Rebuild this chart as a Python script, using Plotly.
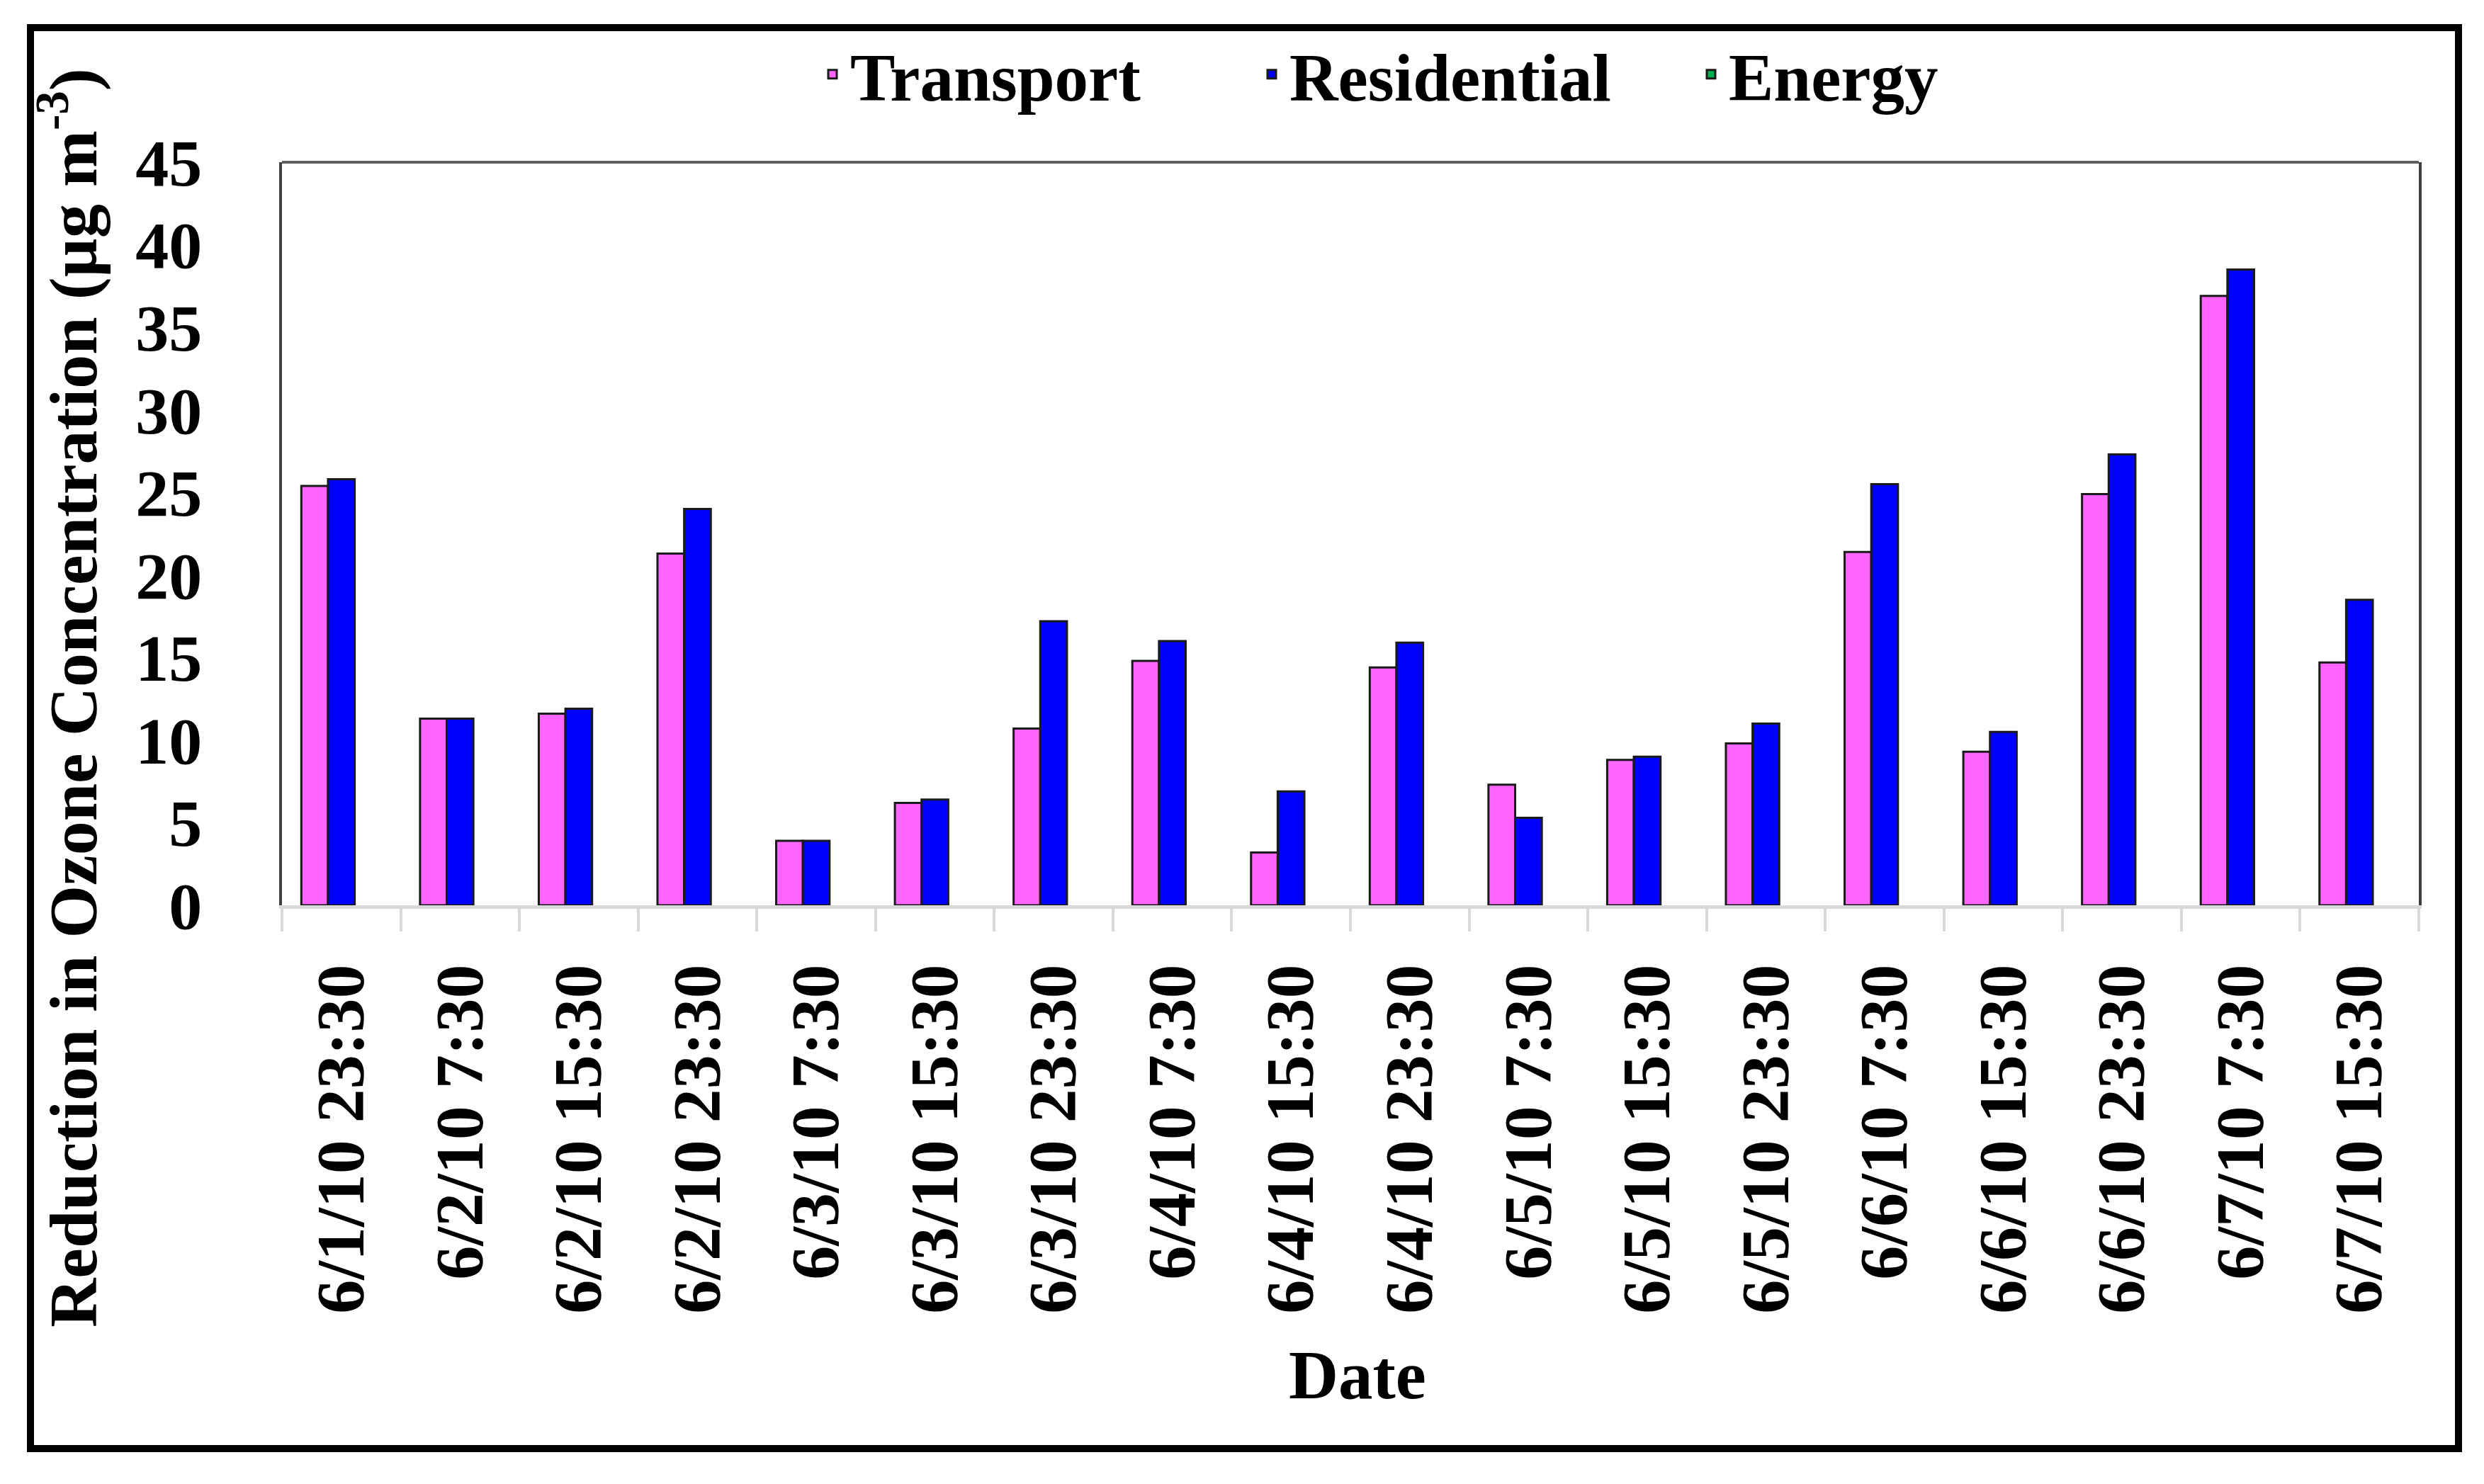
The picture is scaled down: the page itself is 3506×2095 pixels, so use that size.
import plotly.graph_objects as go

categories = ["6/1/10 23:30", "6/2/10 7:30", "6/2/10 15:30", "6/2/10 23:30",
              "6/3/10 7:30", "6/3/10 15:30", "6/3/10 23:30", "6/4/10 7:30",
              "6/4/10 15:30", "6/4/10 23:30", "6/5/10 7:30", "6/5/10 15:30",
              "6/5/10 23:30", "6/6/10 7:30", "6/6/10 15:30", "6/6/10 23:30",
              "6/7/10 7:30", "6/7/10 15:30"]
transport = [25.4, 11.3, 11.6, 21.3, 3.9, 6.2, 10.7, 14.8, 3.2, 14.4,
             7.3, 8.8, 9.8, 21.4, 9.3, 24.9, 36.9, 14.7]
residential = [25.8, 11.3, 11.9, 24.0, 3.9, 6.4, 17.2, 16.0, 6.9, 15.9,
               5.3, 9.0, 11.0, 25.5, 10.5, 27.3, 38.5, 18.5]
energy = [None] * 18  # no visible Energy bars in the reference
y_ticks = [0, 5, 10, 15, 20, 25, 30, 35, 40, 45]

OFF = 8  # default page body margin
W, H = 3506 - 2 * OFF, 2095 - 2 * OFF
L, R, T, B = 398 - OFF, 3414 - OFF, 229 - OFF, 1278 - OFF
pw, ph = R - L, B - T

def px(x):
    return (x - OFF - L) / pw

def py(y):
    return (B - (y - OFF)) / ph

FONT = "Liberation Serif"

fig = go.Figure()
fig.add_trace(go.Bar(name="Transport", x=categories, y=transport,
                     marker=dict(color="#FF66FF", line=dict(color="#1a1a1a", width=3))))
fig.add_trace(go.Bar(name="Residential", x=categories, y=residential,
                     marker=dict(color="#0000FF", line=dict(color="#1a1a1a", width=3))))
fig.add_trace(go.Bar(name="Energy", x=categories, y=energy,
                     marker=dict(color="#00B050", line=dict(color="#1a1a1a", width=3))))

fig.update_layout(
    width=W, height=H,
    margin=dict(l=L, r=W - R, t=T, b=H - B, autoexpand=False),
    paper_bgcolor="white", plot_bgcolor="white",
    barmode="group", bargap=0.326, bargroupgap=0,
    font=dict(family=FONT, color="black"),
    showlegend=True,
    legend=dict(orientation="h", x=px(1150), xanchor="left", y=py(105), yanchor="middle",
                font=dict(family=FONT, size=95, weight="bold", color="black"),
                bgcolor="rgba(0,0,0,0)", itemwidth=40, traceorder="normal",
                entrywidth=565, entrywidthmode="pixels"),
    xaxis=dict(type="category", tickangle=-90, tickson="boundaries",
               ticks="outside", ticklen=32, tickwidth=4, tickcolor="#d9d9d9",
               showline=True, linecolor="#d9d9d9", linewidth=5,
               showgrid=False, zeroline=False,
               tickfont=dict(family=FONT, size=96, weight="bold", color="black"),
               ticklabelstandoff=40),
    yaxis=dict(range=[0, 45], tickvals=y_ticks, ticktext=[str(v) for v in y_ticks],
               showline=True, linecolor="#404040", linewidth=4, mirror=True,
               showgrid=False, zeroline=False, ticks="",
               tickfont=dict(family=FONT, size=94, weight="bold", color="black"),
               ticklabelstandoff=90),
)

# top frame line of the plot area and outer border
fig.add_shape(type="line", xref="paper", yref="paper", x0=0, x1=1, y0=1, y1=1,
              line=dict(color="#606060", width=4))
fig.add_shape(type="rect", xref="paper", yref="paper",
              x0=px(43), x1=px(3470), y0=py(2045), y1=py(39),
              line=dict(color="black", width=10), fillcolor="rgba(0,0,0,0)", layer="above")

fig.add_annotation(text="<b>Reduction in Ozone Concentration (µg m<sup>-3</sup>)</b>",
                   xref="paper", yref="paper", x=px(96), y=py(985),
                   xanchor="center", yanchor="middle", textangle=-90, showarrow=False,
                   font=dict(family=FONT, size=96, color="black"))
fig.add_annotation(text="<b>Date</b>", xref="paper", yref="paper",
                   x=px(1916), y=py(1941), xanchor="center", yanchor="middle",
                   showarrow=False, font=dict(family=FONT, size=97, color="black"))

fig.write_html("out.html")
